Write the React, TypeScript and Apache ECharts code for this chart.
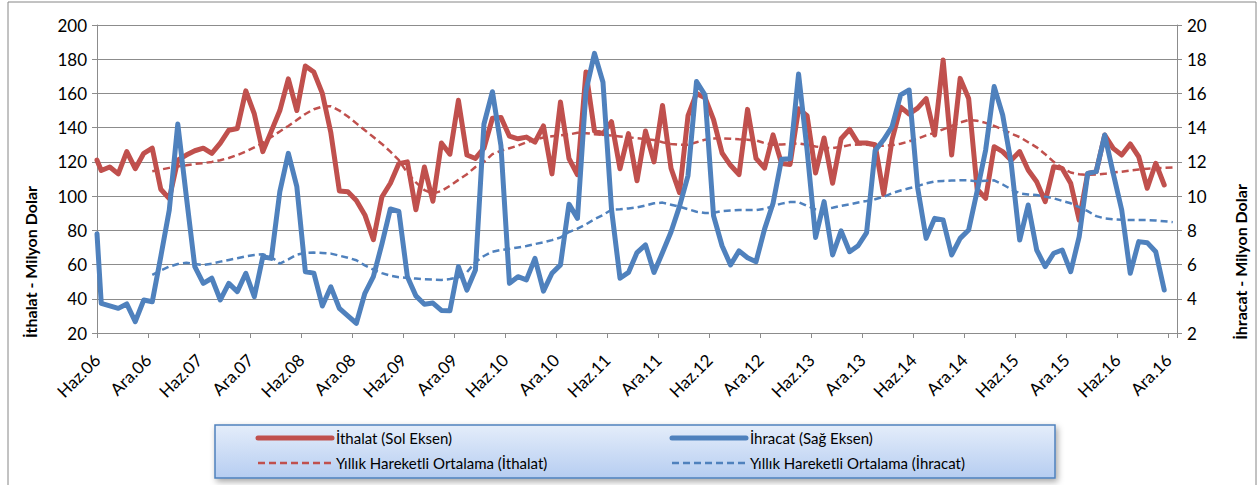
import React, { useEffect, useRef } from "react";
import * as echarts from "echarts";

// Tick labels every 6 months
const tickLabels = [
  "Haz.06", "Ara.06", "Haz.07", "Ara.07", "Haz.08", "Ara.08", "Haz.09", "Ara.09",
  "Haz.10", "Ara.10", "Haz.11", "Ara.11", "Haz.12", "Ara.12", "Haz.13", "Ara.13",
  "Haz.14", "Ara.14", "Haz.15", "Ara.15", "Haz.16", "Ara.16",
];

// İthalat (left axis, million $). First value is the value seen right at the axis edge.
const ithalat = [
  121,
  115, 117, 113, 126, 116, 125,
  128, 104, 98.5, 121, 124, 126.5,
  128, 125, 131, 138.5, 139.5, 161.5,
  148, 126, 138, 150, 168.5, 150,
  176, 172.5, 160, 137, 103, 102.5,
  97.5, 89, 74.5, 99.5, 107.5, 119,
  120, 92, 117, 97, 131, 124.5,
  156, 124, 122, 128, 145.5, 146,
  135, 133.5, 134.5, 131.5, 141, 113,
  155, 122, 112.5, 172.5, 138, 136.5,
  143.5, 116, 136.5, 109, 138, 120,
  153, 116.3, 102, 147, 160, 157.5,
  144.7, 125.2, 118, 112.6, 150.7, 122,
  116.3, 135.8, 119, 118.5, 151, 147,
  113.5, 134, 107.5, 133.5, 139, 131,
  131, 130, 101, 133, 152, 148,
  151.4, 157, 135.7, 179.5, 124, 168.8,
  157, 104, 98.7, 128.9, 126, 121,
  126, 115.3, 108.4, 96.8, 117.2, 116.2,
  107.5, 86, 113.3, 114.3, 135.7, 127.9,
  124, 130.5, 123, 104.6, 119.2, 106.5,
];

// İhracat (right axis, million $)
const ihracat = [
  7.8,
  3.73, 3.58, 3.44, 3.7, 2.66, 3.93,
  3.83, 6.46, 9.19, 14.21, 10.0, 5.88,
  4.9, 5.2, 3.93, 4.9, 4.42, 5.49,
  4.12, 6.46, 6.36, 10.26, 12.5, 10.55,
  5.58, 5.5, 3.58, 4.7, 3.44, 3.0,
  2.57, 4.32, 5.29, 7.2, 9.25, 9.1,
  5.29, 4.17, 3.68, 3.75, 3.32, 3.3,
  5.88, 4.51, 5.68, 14.2, 16.1, 12.95,
  4.9, 5.29, 5.1, 6.36, 4.45, 5.49,
  5.98, 9.53, 8.7, 16.15, 18.34, 16.65,
  9.24, 5.2, 5.54, 6.7, 7.15, 5.54,
  6.7, 7.9, 9.4, 11.2, 16.7, 15.9,
  8.85, 7.1, 5.98, 6.8, 6.4, 6.17,
  8.07, 9.58, 12.16, 12.18, 17.13, 12.7,
  7.58, 9.68, 6.56, 7.97, 6.75, 7.1,
  7.87, 12.66, 13.29, 14.07, 15.92, 16.2,
  10.5, 7.53, 8.7, 8.6, 6.56, 7.53,
  8.02, 10.3, 12.7, 16.4, 14.74, 11.92,
  7.43, 9.48, 6.85, 5.88, 6.66, 6.85,
  5.58, 7.63, 11.33, 11.43, 13.57, 11.33,
  9.19, 5.49, 7.34, 7.28, 6.75, 4.51,
];

// Yıllık hareketli ortalama (İthalat), starts at the 8th point
const maIthalat = [
  114.5, 115.5, 116.5, 117.3, 118, 118.8,
  119.3, 120, 121, 122.3, 124, 126,
  128.5, 131, 134.5, 137.8, 141, 144.5,
  148, 150.8, 152.3, 152.5, 150, 146.5,
  142.5, 138.5, 134.5, 130.5, 126, 121,
  113.5, 108, 103.5, 101.5, 103, 106,
  109.5, 112.8, 117, 120, 124.5, 126.5,
  128, 129.5, 131.5, 133, 134.3, 135,
  135.5, 136, 137, 136.8, 136.2, 135.8,
  135.4, 134.9, 134.4, 133.8, 133.3, 132.8,
  131.5, 130.5, 130, 130, 131.5, 133,
  133.6, 133.8, 133.5, 133.2, 133, 132.5,
  131, 130, 130.2, 130.5, 130.8, 130,
  129, 128.3, 128, 128.8, 129.8, 130.2,
  130, 129.6, 129.4, 129.8, 130.6, 132,
  133.6, 135.5, 137, 139, 141, 143,
  144.5, 144, 142.8, 141, 139, 136.5,
  134.5, 131.5, 128.5, 124.5, 120, 116.5,
  113.8, 112.8, 112.4, 112.6, 113, 113.8,
  114.3, 115, 115.5, 116, 116.3, 116.5,
  116.8,
];

// Yıllık hareketli ortalama (İhracat)
const maIhracat = [
  5.4, 5.65, 5.88, 6.03, 6.1, 6.03,
  5.97, 6.05, 6.17, 6.27, 6.37, 6.48,
  6.56, 6.6, 6.45, 6.05, 6.3, 6.58,
  6.68, 6.7, 6.68, 6.64, 6.52, 6.4,
  6.25, 5.95, 5.7, 5.5, 5.35, 5.26,
  5.22, 5.18, 5.14, 5.12, 5.1, 5.15,
  5.25, 5.55, 6.15, 6.5, 6.75, 6.85,
  6.92, 7.0, 7.08, 7.2, 7.3, 7.43,
  7.58, 7.9, 8.1, 8.35, 8.65, 8.9,
  9.2, 9.23, 9.28, 9.34, 9.45, 9.58,
  9.62, 9.5, 9.38, 9.23, 9.09, 9.01,
  9.03, 9.12, 9.16, 9.19, 9.19, 9.19,
  9.25, 9.42, 9.56, 9.65, 9.65, 9.43,
  9.23, 9.22, 9.32, 9.43, 9.52, 9.63,
  9.71, 9.82, 9.96, 10.17, 10.33, 10.46,
  10.58, 10.75, 10.86, 10.89, 10.91, 10.93,
  10.92, 10.86, 10.9, 10.92, 10.68, 10.4,
  10.16, 10.1, 10.06, 9.97, 9.87, 9.72,
  9.58, 9.35, 9.12, 8.83, 8.7, 8.65,
  8.62, 8.6, 8.6, 8.6, 8.58, 8.53,
  8.48,
];

const legendItems = [
  { name: "İthalat (Sol Eksen)", color: "#C0504D", dashed: false },
  { name: "İhracat (Sağ Eksen)", color: "#4F81BD", dashed: false },
  { name: "Yıllık Hareketli Ortalama (İthalat)", color: "#C0504D", dashed: true },
  { name: "Yıllık Hareketli Ortalama (İhracat)", color: "#4F81BD", dashed: true },
];

const FONT = "Lato, 'Open Sans', sans-serif";

export default function App() {
  const ref = useRef<HTMLDivElement>(null);

  useEffect(() => {
    if (!ref.current) return;
    const chart = echarts.init(ref.current, null, { renderer: "svg" });

    // monthly points sit half a month right of the ticks; the first point is the axis edge
    const monthly = (arr: number[]) => arr.map((v, i) => [i === 0 ? 0 : i - 0.5, v]);
    const fromStart = (arr: number[], start: number) => arr.map((v, i) => [start + i, v]);
    const gridColor = "#8C8C8C";

    const legendGraphics: any[] = [];
    const colX = [258, 672];
    const rowY = [438, 463];
    legendItems.forEach((it, idx) => {
      const cx = colX[idx % 2];
      const cy = rowY[Math.floor(idx / 2)];
      legendGraphics.push({
        type: "line",
        shape: { x1: cx, y1: cy, x2: cx + 74, y2: cy },
        style: {
          stroke: it.color,
          lineWidth: it.dashed ? 2.5 : 5,
          lineDash: it.dashed ? [7, 4] : undefined,
          lineCap: it.dashed ? "butt" : "round",
        },
        z: 11,
      });
      legendGraphics.push({
        type: "text",
        x: cx + 78,
        y: cy,
        style: {
          text: it.name,
          font: `15px ${FONT}`,
          fill: "#000",
          verticalAlign: "middle",
          align: "left",
        },
        z: 11,
      });
    });

    const option: any = {
      animation: false,
      backgroundColor: "#fff",
      grid: { left: 97, top: 25, width: 1080, height: 308, containLabel: false },
      xAxis: {
        type: "value",
        min: 0,
        max: 127,
        interval: 6,
        axisLine: { show: true, lineStyle: { color: gridColor, width: 1 } },
        axisTick: { show: true, length: 5, lineStyle: { color: gridColor } },
        splitLine: { show: false },
        axisLabel: {
          rotate: 45,
          margin: 24,
          fontSize: 17,
          fontFamily: FONT,
          color: "#000",
          formatter: (v: number) =>
            v % 6 === 0 && v / 6 < tickLabels.length ? tickLabels[v / 6] : "",
        },
      },
      yAxis: [
        {
          type: "value",
          min: 20,
          max: 200,
          interval: 20,
          position: "left",
          axisLine: { show: true, lineStyle: { color: gridColor } },
          axisTick: { show: true, length: 5, lineStyle: { color: gridColor } },
          splitLine: { show: true, lineStyle: { color: gridColor, width: 1 } },
          axisLabel: { fontSize: 17, fontFamily: FONT, color: "#000", margin: 10 },
        },
        {
          type: "value",
          min: 2,
          max: 20,
          interval: 2,
          position: "right",
          axisLine: { show: true, lineStyle: { color: gridColor } },
          axisTick: { show: true, length: 5, lineStyle: { color: gridColor } },
          splitLine: { show: false },
          axisLabel: { fontSize: 17, fontFamily: FONT, color: "#000", margin: 10 },
        },
      ],
      series: [
        {
          name: legendItems[0].name,
          type: "line",
          yAxisIndex: 0,
          data: monthly(ithalat),
          showSymbol: false,
          lineStyle: { color: "#C0504D", width: 5, join: "round", cap: "round" },
          z: 3,
        },
        {
          name: legendItems[2].name,
          type: "line",
          yAxisIndex: 0,
          data: fromStart(maIthalat, 6.5),
          showSymbol: false,
          lineStyle: { color: "#C0504D", width: 2.5, type: [7, 4] },
          z: 4,
        },
        {
          name: legendItems[1].name,
          type: "line",
          yAxisIndex: 1,
          data: monthly(ihracat),
          showSymbol: false,
          lineStyle: { color: "#4F81BD", width: 5, join: "round", cap: "round" },
          z: 5,
        },
        {
          name: legendItems[3].name,
          type: "line",
          yAxisIndex: 1,
          data: fromStart(maIhracat, 6.5),
          showSymbol: false,
          lineStyle: { color: "#4F81BD", width: 2.5, type: [7, 4] },
          z: 6,
        },
      ],
      graphic: [
        {
          type: "rect",
          shape: { x: 8, y: 2, width: 1248, height: 490 },
          style: { fill: "none", stroke: "#868686", lineWidth: 1 },
          silent: true,
          z: 0,
        },
        {
          type: "text",
          x: 30,
          y: 262,
          rotation: Math.PI / 2,
          style: {
            text: "İthalat - Milyon Dolar",
            font: `bold 16px ${FONT}`,
            fill: "#000",
            align: "center",
            verticalAlign: "middle",
          },
        },
        {
          type: "text",
          x: 1240,
          y: 262,
          rotation: Math.PI / 2,
          style: {
            text: "İhracat - Milyon Dolar",
            font: `bold 16px ${FONT}`,
            fill: "#000",
            align: "center",
            verticalAlign: "middle",
          },
        },
        {
          type: "rect",
          shape: { x: 215, y: 425, width: 840, height: 53 },
          style: {
            fill: new echarts.graphic.LinearGradient(0, 0, 0, 1, [
              { offset: 0, color: "#E4EDFA" },
              { offset: 1, color: "#B6CDF1" },
            ]),
            stroke: "#4F81BD",
            lineWidth: 1.5,
            shadowBlur: 6,
            shadowOffsetX: 2,
            shadowOffsetY: 3,
            shadowColor: "rgba(0,0,0,0.35)",
          },
          z: 10,
        },
        ...legendGraphics,
      ],
    };

    chart.setOption(option);
    return () => chart.dispose();
  }, []);

  return (
    <div
      ref={ref}
      style={{ position: "fixed", left: 0, top: 0, width: 1259, height: 485 }}
    />
  );
}
